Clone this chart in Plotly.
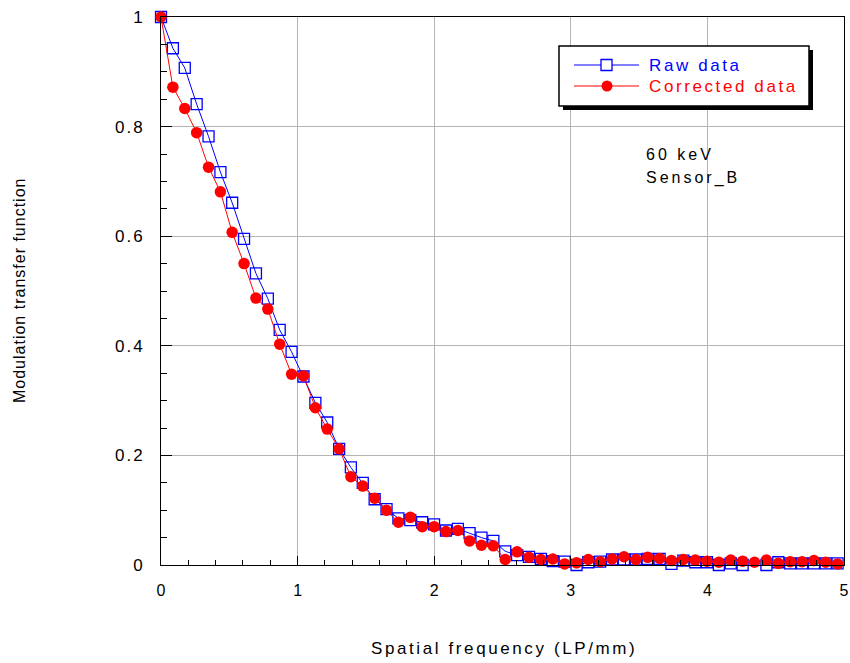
import plotly.graph_objects as go

# Spatial frequency samples (LP/mm)
freq = [0.000, 0.087, 0.174, 0.261, 0.348, 0.435, 0.521, 0.608, 0.695, 0.782,
        0.869, 0.956, 1.043, 1.130, 1.217, 1.304, 1.390, 1.477, 1.564, 1.651,
        1.738, 1.825, 1.912, 1.999, 2.086, 2.173, 2.259, 2.346, 2.433, 2.520,
        2.607, 2.694, 2.781, 2.868, 2.955, 3.042, 3.128, 3.215, 3.302, 3.389,
        3.476, 3.563, 3.650, 3.737, 3.824, 3.911, 3.997, 4.084, 4.171, 4.258,
        4.345, 4.432, 4.519, 4.606, 4.693, 4.780, 4.866, 4.953]

# MTF of the raw measurement
mtf_raw = [1.000, 0.943, 0.907, 0.841, 0.782, 0.717, 0.661, 0.595, 0.532, 0.486,
           0.429, 0.389, 0.344, 0.296, 0.260, 0.212, 0.178, 0.150, 0.120, 0.102,
           0.085, 0.082, 0.078, 0.074, 0.063, 0.066, 0.058, 0.050, 0.044, 0.025,
           0.018, 0.015, 0.011, 0.007, 0.006, 0.000, 0.005, 0.006, 0.010, 0.010,
           0.010, 0.011, 0.011, 0.002, 0.008, 0.005, 0.005, 0.000, 0.003, 0.000,
           -0.001, 0.000, 0.005, 0.003, 0.003, 0.003, 0.003, 0.003]

# MTF after correction
mtf_corr = [1.000, 0.872, 0.833, 0.789, 0.726, 0.681, 0.607, 0.550, 0.487, 0.467,
            0.403, 0.348, 0.345, 0.287, 0.248, 0.212, 0.161, 0.144, 0.122, 0.100,
            0.078, 0.087, 0.070, 0.070, 0.061, 0.063, 0.044, 0.036, 0.035, 0.010,
            0.024, 0.014, 0.010, 0.011, 0.002, 0.004, 0.010, 0.006, 0.011, 0.015,
            0.010, 0.014, 0.012, 0.008, 0.010, 0.009, 0.007, 0.005, 0.009, 0.007,
            0.005, 0.009, 0.003, 0.006, 0.006, 0.008, 0.005, 0.002]

x_ticks = [0, 1, 2, 3, 4, 5]
x_labels = ["0", "1", "2", "3", "4", "5"]
y_ticks = [0, 0.2, 0.4, 0.6, 0.8, 1]
y_labels = ["0", "0.2", "0.4", "0.6", "0.8", "1"]

BLUE = "#0000ff"
RED = "#ff0000"
FONT = "Liberation Sans, Arial, sans-serif"

# figure geometry (pixels)
W, H = 850, 663
L, R, T, B = 161, 6, 17, 98
PW, PH = W - L - R, H - T - B


def px(x):
    return (x - L) / PW


def py(y):
    return (H - B - y) / PH


def spaced(s, sp=2):
    return f'<span style="letter-spacing:{sp}px">{s}</span>'


fig = go.Figure()
fig.add_trace(go.Scatter(
    x=freq, y=mtf_raw, mode="lines+markers", name="Raw data",
    line=dict(color=BLUE, width=1),
    marker=dict(symbol="square-open", size=11, color=BLUE, line=dict(width=1.3)),
    cliponaxis=False, showlegend=False))
fig.add_trace(go.Scatter(
    x=freq, y=mtf_corr, mode="lines+markers", name="Corrected data",
    line=dict(color=RED, width=1),
    marker=dict(symbol="circle", size=11.5, color=RED),
    cliponaxis=False, showlegend=False))

axis_common = dict(
    showline=True, linecolor="black", linewidth=1, mirror=True,
    showgrid=True, gridcolor="#b4b4b4", gridwidth=1, zeroline=False,
    ticks="inside", tickcolor="black", ticklabeloverflow="allow",
)
fig.update_xaxes(
    range=[0, 5], tickvals=x_ticks, ticktext=x_labels,
    tickfont=dict(family=FONT, size=16, color="black"),
    ticklen=9, ticklabelstandoff=11,
    minor=dict(dtick=0.2, ticks="inside", ticklen=5, tickcolor="black", showgrid=False),
    **axis_common)
fig.update_yaxes(
    range=[0, 1], tickvals=y_ticks, ticktext=[spaced(t) for t in y_labels],
    tickfont=dict(family=FONT, size=17, color="black"),
    ticklen=11, ticklabelstandoff=12,
    minor=dict(dtick=0.05, ticks="inside", ticklen=6, tickcolor="black", showgrid=False),
    **axis_common)

shapes = []
annotations = []

# legend box with drop shadow
bx0, bx1, by0, by1 = 559, 809, 46, 106
shapes.append(dict(type="rect", xref="paper", yref="paper",
                   x0=px(bx0 + 4), x1=px(bx1 + 4), y0=py(by1 + 4), y1=py(by0 + 4),
                   fillcolor="black", line=dict(width=0)))
shapes.append(dict(type="rect", xref="paper", yref="paper",
                   x0=px(bx0), x1=px(bx1), y0=py(by1), y1=py(by0),
                   fillcolor="white", line=dict(color="black", width=1.5)))

# legend samples
for yy, col, kind, label in [(65, BLUE, "sq", "Raw data"), (86, RED, "ci", "Corrected data")]:
    shapes.append(dict(type="line", xref="paper", yref="paper",
                       x0=px(574), x1=px(639), y0=py(yy), y1=py(yy),
                       line=dict(color=col, width=1)))
    if kind == "sq":
        shapes.append(dict(type="rect", xref="paper", yref="paper",
                           x0=px(601), x1=px(612), y0=py(yy + 5.5), y1=py(yy - 5.5),
                           fillcolor="white", line=dict(color=col, width=1.3)))
    else:
        shapes.append(dict(type="circle", xref="paper", yref="paper",
                           x0=px(601.5), x1=px(612.5), y0=py(yy + 5.5), y1=py(yy - 5.5),
                           fillcolor=col, line=dict(color=col, width=0)))
    annotations.append(dict(xref="paper", yref="paper", x=px(647), y=py(yy),
                            xanchor="left", yanchor="middle", showarrow=False,
                            text=spaced(label, 2.6),
                            font=dict(family=FONT, size=17, color=col)))

# condition label
for yy, line_text in [(155, "60 keV"), (178, "Sensor_B")]:
    annotations.append(dict(xref="paper", yref="paper", x=px(644), y=py(yy),
                            xanchor="left", yanchor="middle", showarrow=False,
                            text=spaced(line_text, 3),
                            font=dict(family=FONT, size=16, color="black")))

# axis titles
annotations.append(dict(xref="paper", yref="paper", x=px(504), y=py(648),
                        xanchor="center", yanchor="middle", showarrow=False,
                        text=spaced("Spatial frequency (LP/mm)", 2.6),
                        font=dict(family=FONT, size=17, color="black")))
annotations.append(dict(xref="paper", yref="paper", x=px(19), y=py(291),
                        xanchor="center", yanchor="middle", showarrow=False,
                        textangle=-90, text=spaced("Modulation transfer function", 1),
                        font=dict(family=FONT, size=16, color="black")))

fig.update_layout(
    width=W, height=H,
    margin=dict(l=L, r=R, t=T, b=B, autoexpand=False),
    paper_bgcolor="white", plot_bgcolor="white",
    showlegend=False, shapes=shapes, annotations=annotations,
)

fig.write_html("out.html")
